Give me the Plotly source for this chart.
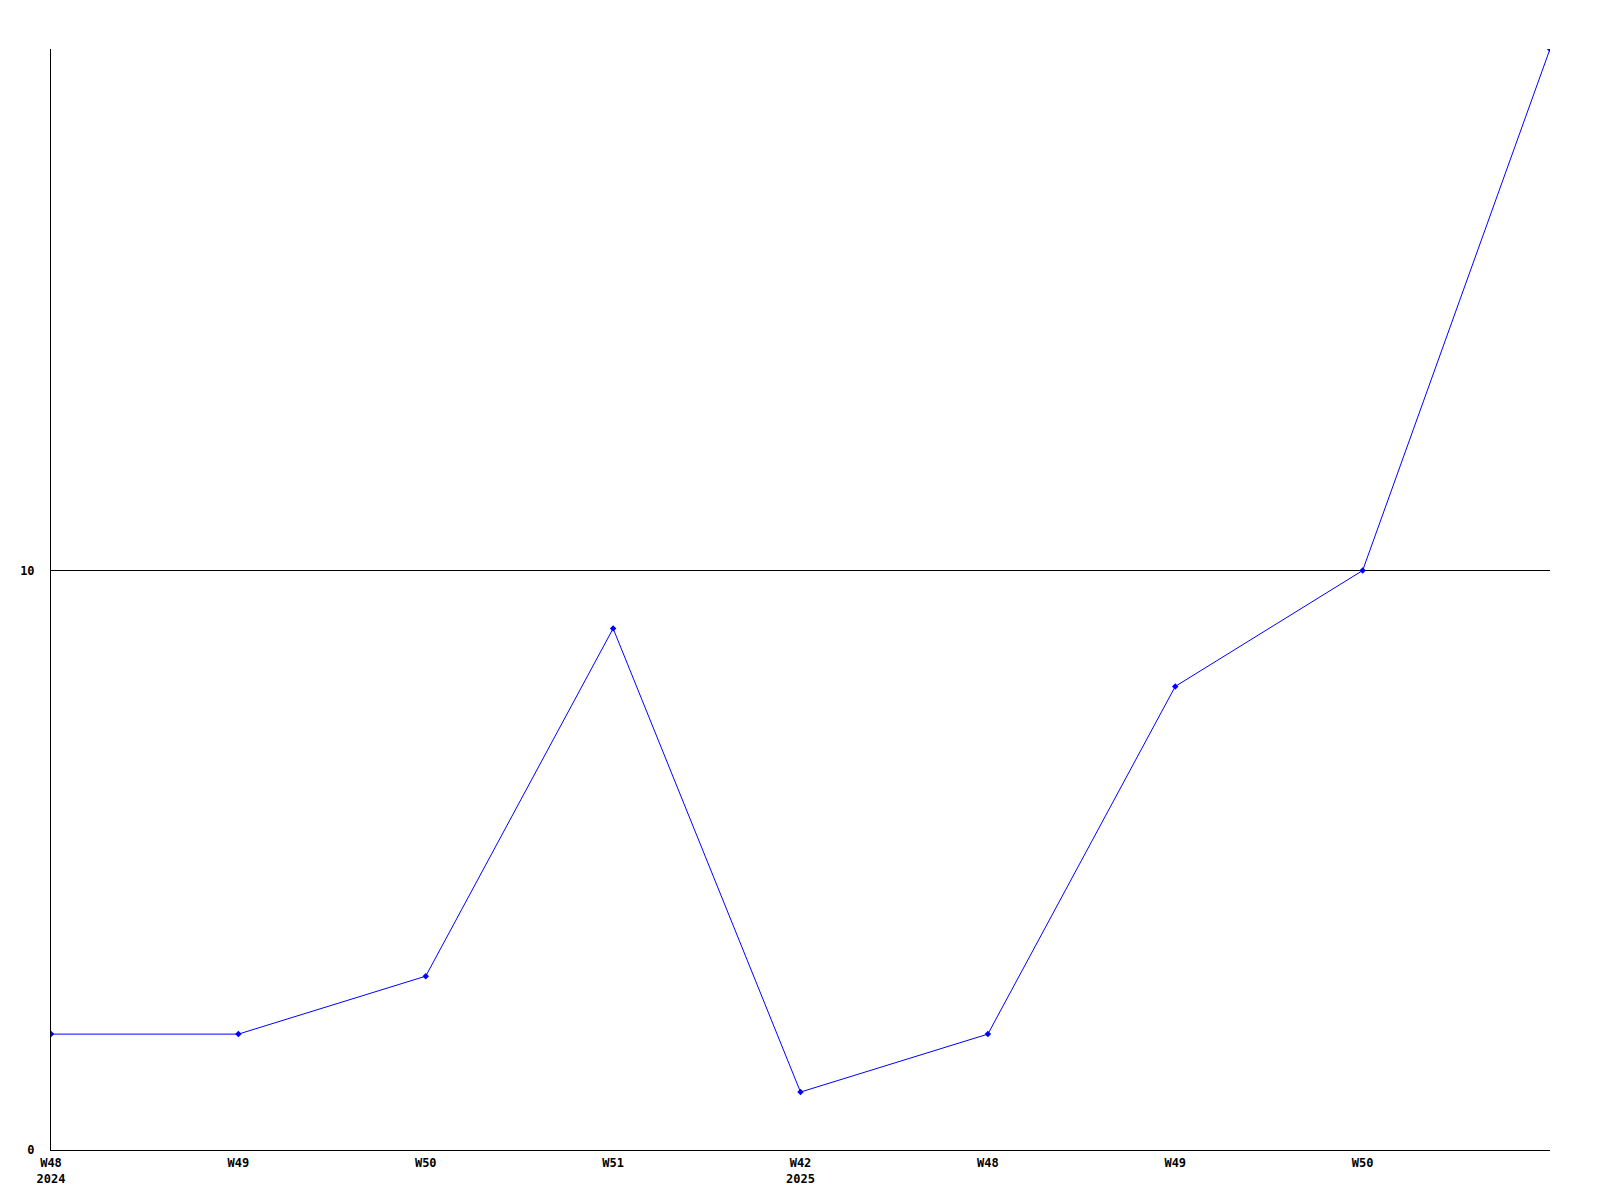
import plotly.graph_objects as go

week_labels = ["W48<br>2024", "W49", "W50", "W51", "W42<br>2025", "W48", "W49", "W50", ""]
values = [2, 2, 3, 9, 1, 2, 8, 10, 19]
x_idx = list(range(len(values)))

font = dict(family="DejaVu Sans Mono, Liberation Mono, monospace", size=12, color="black", weight="bold")

fig = go.Figure()
fig.add_trace(go.Scatter(
    x=x_idx, y=values, mode="lines+markers",
    line=dict(color="#0000ff", width=1),
    marker=dict(color="#0000ff", size=5, symbol="diamond"),
    showlegend=False, hoverinfo="skip",
))

fig.update_layout(
    width=1600, height=1200,
    margin=dict(l=43, r=58, t=41, b=58),
    paper_bgcolor="white", plot_bgcolor="white",
    font=font,
)
fig.update_xaxes(
    range=[0, len(values) - 1],
    tickvals=x_idx[:-1], ticktext=week_labels[:-1],
    showgrid=False, zeroline=False,
    showline=True, linecolor="black", linewidth=1,
    ticks="", tickfont=font, ticklabelstandoff=2, automargin=False,
)
fig.update_yaxes(
    range=[0, 19], tickvals=[0, 10], ticktext=["0", "10"],
    showgrid=True, gridcolor="black", gridwidth=1,
    zeroline=False, showline=True, linecolor="black", linewidth=1,
    ticks="", tickfont=font, ticklabelstandoff=13, automargin=False,
)

fig.write_html("out.html")
